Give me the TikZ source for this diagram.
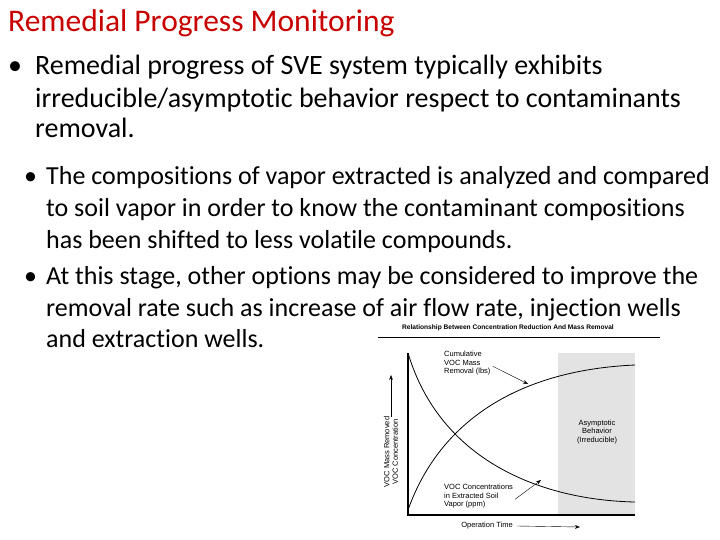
\documentclass[tikz,border=0pt]{standalone}
\usepackage{fontspec}
\setmainfont[Ligatures=NoCommon]{Carlito}
\newfontfamily\chartfont{Liberation Sans}
\usetikzlibrary{arrows.meta}
\begin{document}
\begin{tikzpicture}[x=1pt,y=-1pt,
  ln/.style={anchor=base west,inner sep=0pt,font=\fontsize{28}{30}\selectfont},
  ln2/.style={anchor=base west,inner sep=0pt,font=\fontsize{26}{28}\selectfont},
  sm/.style={inner sep=0pt,font=\chartfont\fontsize{7.5}{8.5}\selectfont,align=left},
  crv/.style={line width=0.8pt}]
\useasboundingbox (0,0) rectangle (720,540);
\node[anchor=base west,inner sep=0pt,text={rgb,255:red,200;green,0;blue,0},font=\fontsize{31.5}{34}\selectfont] (t) at (8,32) {Remedial Progress Monitoring};
\node[ln] (b1) at (8,75) {•};
\node[ln] (l1) at (35,75) {Remedial progress of SVE system typically exhibits};
\node[ln] (l2) at (35,108) {irreducible/asymptotic behavior respect to contaminants};
\node[ln] (l3) at (35,138) {removal.};
\node[ln2] (b2) at (24,185) {•};
\node[ln2] (m1) at (46,185) {The compositions of vapor extracted is analyzed and compared};
\node[ln2] (m2) at (46,216) {to soil vapor in order to know the contaminant compositions};
\node[ln2] (m3) at (46,248) {has been shifted to less volatile compounds.};
\node[ln2] (b3) at (24,284) {•};
\node[ln2] (n1) at (46,284) {At this stage, other options may be considered to improve the};
\node[ln2] (n2) at (46,316) {removal rate such as increase of air flow rate, injection wells};
\node[ln2] (n3) at (46,347) {and extraction wells.};
% chart
\fill[gray!22] (558,353) rectangle (635,515);
\node[inner sep=0pt,font=\chartfont\bfseries\fontsize{6.6}{7}\selectfont] (ct) at (508,328) {Relationship Between Concentration Reduction And Mass Removal};
\draw[line width=0.6pt] (378,337) -- (660,337);
\coordinate (o) at (408,515);
\draw[line width=1.6pt] (408,353) -- (o) -- (635,515);
\draw[crv] (408,510) .. controls (440,420) and (520,370) .. (635,365);
\draw[crv] (408,353) .. controls (440,460) and (540,500) .. (635,502);
\node[sm,anchor=north west] (cm) at (444,351) {Cumulative\\VOC Mass\\Removal (lbs)};
\coordinate (cma) at (528,384);
\draw[-{Stealth[length=5pt]}] ([xshift=2pt,yshift=-3pt]cm.east) -- (cma);
\node[sm,anchor=north west] (cc) at (444,484) {VOC Concentrations\\in Extracted Soil\\Vapor (ppm)};
\coordinate (cca) at (541,480);
\draw[-{Stealth[length=5pt]}] ([xshift=2pt,yshift=-3pt]cc.east) -- (cca);
\node[sm,align=center] (as) at (597,432) {Asymptotic\\Behavior\\(Irreducible)};
\node[sm,align=center,rotate=90] (yl) at (391,452) {VOC Mass Removed\\VOC Concentration};
\coordinate (ya) at (391,375);
\draw[-{Stealth[length=5pt]}] (yl.east) -- (ya);
\node[sm] (xl) at (487,526) {Operation Time};
\coordinate (xa) at (580,527);
\draw[-{Stealth[length=5pt]}] ([xshift=4pt]xl.east) -- (xa);
\end{tikzpicture}
\end{document}
